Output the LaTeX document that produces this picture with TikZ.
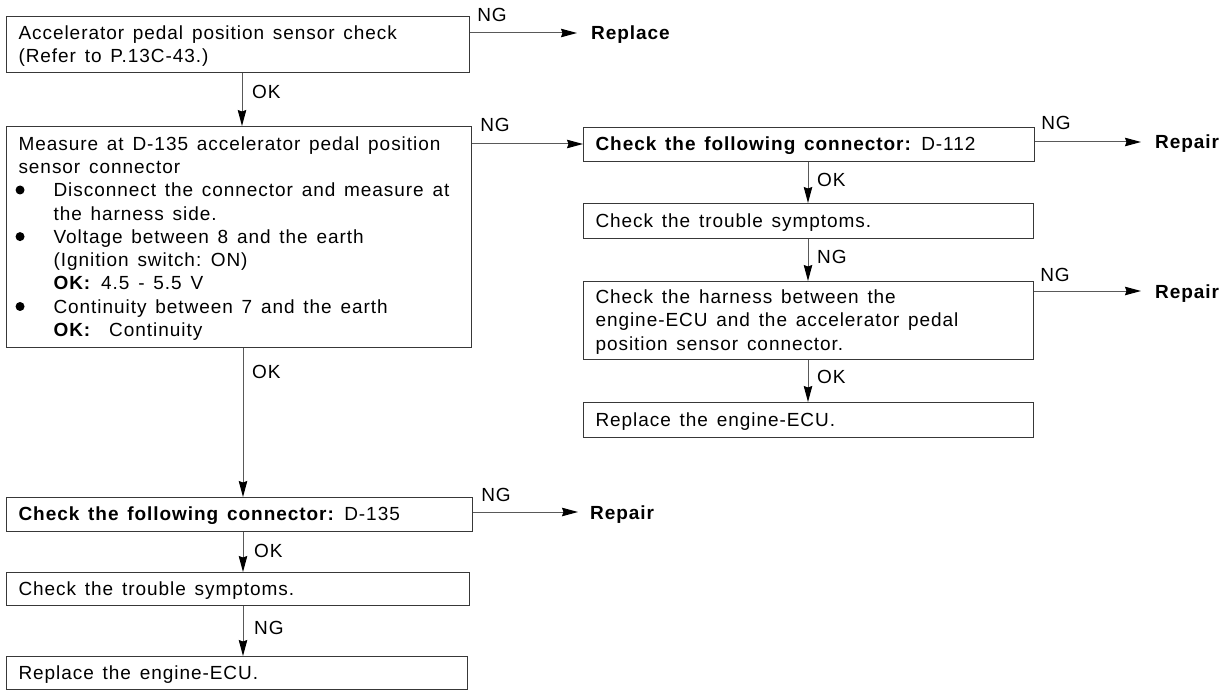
\documentclass[tikz,border=0pt]{standalone}
\usepackage{fontspec}
\setmainfont{Liberation Sans}[LetterSpace=5]
\usetikzlibrary{arrows.meta}
\newlength\wsp
\setlength\wsp{8.8pt}
\newcommand\stt{\rule[-5.3pt]{0pt}{23.3pt}}
\newcommand\Lline[1]{\mbox{\spaceskip=\wsp\relax\stt#1}}
\newcommand\bulmark{\makebox[35pt][l]{\hspace*{-3pt}\raisebox{2.3pt}{\tikz\fill (0,0) circle (4.5pt);}}}
\newcommand\BLine[1]{\mbox{\spaceskip=\wsp\relax\stt\bulmark#1}}
\newcommand\ILine[1]{\mbox{\spaceskip=\wsp\relax\stt\hspace*{35pt}#1}}
\begin{document}
\begin{tikzpicture}[x=1pt,y=-1pt,
  font=\fontsize{19pt}{23.3pt}\selectfont,
  box/.style={draw=black!78, line width=1.1pt, inner xsep=12pt, inner ysep=0pt,
    align=left, anchor=north west},
  arr/.style={draw=black!65, line width=1pt,
    -{Stealth[length=16pt,width=8.5pt,inset=1.5pt,black]}},
  lbl/.style={inner sep=0pt, anchor=base west}]
\useasboundingbox (0,0) rectangle (1224,690);
\fill[white] (0,0) rectangle (1224,690);

% boxes
\node[box, text width=439pt, minimum height=56pt] (b1) at (6,16)
  {\Lline{Accelerator pedal position sensor check}\\
   \Lline{(Refer to P.13C-43.)}};
\node[box, text width=441pt, minimum height=221pt] (b2) at (6,126)
  {\Lline{Measure at D-135 accelerator pedal position}\\
   \Lline{sensor connector}\\
   \BLine{Disconnect the connector and measure at}\\
   \ILine{the harness side.}\\
   \BLine{Voltage between 8 and the earth}\\
   \ILine{(Ignition switch: ON)}\\
   \ILine{\textbf{OK:}\hspace*{10pt}4.5 - 5.5 V}\\
   \BLine{Continuity between 7 and the earth}\\
   \ILine{\textbf{OK:}\hspace*{18pt}Continuity}};
\node[box, text width=427pt, minimum height=34pt] (b3) at (583,127)
  {\Lline{\textbf{Check the following connector:} D-112}};
\node[box, text width=426pt, minimum height=35pt] (b4) at (583,203)
  {\Lline{Check the trouble symptoms.}};
\node[box, text width=426pt, minimum height=78pt] (b5) at (583,281)
  {\Lline{Check the harness between the}\\
   \Lline{engine-ECU and the accelerator pedal}\\
   \Lline{position sensor connector.}};
\node[box, text width=426pt, minimum height=35pt] (b6) at (583,402)
  {\Lline{Replace the engine-ECU.}};
\node[box, text width=442pt, minimum height=34pt] (b7) at (6,497)
  {\Lline{\textbf{Check the following connector:} D-135}};
\node[box, text width=439pt, minimum height=33pt] (b8) at (6,572)
  {\Lline{Check the trouble symptoms.}};
\node[box, text width=437pt, minimum height=33pt] (b9) at (6,656)
  {\Lline{Replace the engine-ECU.}};

% vertical connectors
\coordinate (xl0) at (242,0);
\coordinate (xl) at (243,0);
\coordinate (xr) at (808,0);
\draw[arr] (b1.south -| xl0) -- (b2.north -| xl0);
\path (b1.south -| xl0) ++(10,25) node[lbl] (l1) {OK};
\draw[arr] (b2.south -| xl) -- (b7.north -| xl);
\path (b2.south -| xl) ++(9,30) node[lbl] (l2) {OK};
\draw[arr] (b7.south -| xl) -- (b8.north -| xl);
\path (b7.south -| xl) ++(11,25) node[lbl] (l3) {OK};
\draw[arr] (b8.south -| xl) -- (b9.north -| xl);
\path (b8.south -| xl) ++(11,28) node[lbl] (l4) {NG};
\draw[arr] (b3.south -| xr) -- (b4.north -| xr);
\path (b3.south -| xr) ++(9,24) node[lbl] (l5) {OK};
\draw[arr] (b4.south -| xr) -- (b5.north -| xr);
\path (b4.south -| xr) ++(9,24) node[lbl] (l6) {NG};
\draw[arr] (b5.south -| xr) -- (b6.north -| xr);
\path (b5.south -| xr) ++(9,23) node[lbl] (l7) {OK};

% horizontal connectors
\coordinate (t1) at (577,33);
\draw[arr] (b1.east |- t1) -- (t1);
\path (b1.east |- t1) ++(7,-11) node[lbl] (n1) {NG};
\path (t1) ++(14,7) node[lbl] (r1) {\textbf{Replace}};

\coordinate (h2) at (0,144);
\draw[arr] (b2.east |- h2) -- (b3.west |- h2);
\path (b2.east |- h2) ++(8,-12) node[lbl] (n2) {NG};

\coordinate (t3) at (1141,142);
\draw[arr] (b3.east |- t3) -- (t3);
\path (b3.east |- t3) ++(6,-12) node[lbl] (n3) {NG};
\path (t3) ++(14,7) node[lbl] (r3) {\textbf{Repair}};

\coordinate (t5) at (1141,291);
\draw[arr] (b5.east |- t5) -- (t5);
\path (b5.east |- t5) ++(6,-10) node[lbl] (n5) {NG};
\path (t5) ++(14,7) node[lbl] (r5) {\textbf{Repair}};

\coordinate (t7) at (578,512);
\draw[arr] (b7.east |- t7) -- (t7);
\path (b7.east |- t7) ++(8,-11) node[lbl] (n7) {NG};
\path (t7) ++(12,7) node[lbl] (r7) {\textbf{Repair}};
\end{tikzpicture}
\end{document}
